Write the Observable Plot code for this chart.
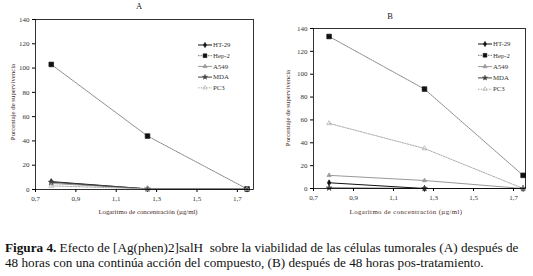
<!DOCTYPE html>
<html><head><meta charset="utf-8">
<script src="https://cdn.jsdelivr.net/npm/d3@7"></script>
<script src="https://cdn.jsdelivr.net/npm/@observablehq/plot@0.6"></script>
<style>
body{margin:0;background:#fff;}
#root{position:relative;width:533px;height:276px;background:#fff;overflow:hidden;font-family:'Liberation Serif','Times New Roman',Tinos,'DejaVu Serif',serif;}
.panel{position:absolute;top:0;}
.ttl{position:absolute;font-size:8.5px;color:#222;transform:translate(-50%,-50%);}
.ylab{position:absolute;font-size:6.8px;color:#4a2a1e;transform:translate(-50%,-50%) rotate(-90deg);white-space:nowrap;}
.xlab{position:absolute;font-size:6.8px;color:#4a2a1e;white-space:nowrap;transform:translate(-50%,-50%);}
.leg{position:absolute;}
#cap{position:absolute;left:5px;top:240px;font-size:13.2px;line-height:15px;color:#111;white-space:nowrap;}
</style></head>
<body><div id="root"></div>
<script>
const FONT = "'Liberation Serif','Times New Roman',Tinos,'DejaVu Serif',serif";
const xValues = [0.778, 1.255, 1.748];
const seriesNames = ["HT-29", "Hep-2", "A549", "MDA", "PC3"];
// Panel A: 48 h continuous action
const A_HT29 = [6.5, 0.5, 0.3];
const A_Hep2 = [103, 44, 0.5];
const A_A549 = [5, 0.5, 0.3];
const A_MDA  = [6, 0.5, 0.3];
const A_PC3  = [3, 0.5, 0.3];
// Panel B: 48 h post-treatment
const B_HT29 = [5, 0, 0];
const B_Hep2 = [133, 87, 11.5];
const B_A549 = [11.5, 7, 0];
const B_MDA  = [0.5, 0, 0];
const B_PC3  = [57, 35, 0];
const xTicks = [0.7, 0.9, 1.1, 1.3, 1.5, 1.7];
const yTicks = [0, 20, 40, 60, 80, 100, 120, 140];
const yLabel = "Porcentaje de supervivencia";
const xLabel = "Logaritmo de concentración (µg/ml)";
const caption = ["<b>Figura 4.</b> Efecto de [Ag(phen)2]salH&nbsp; sobre la viabilidad de las células tumorales (A) después de",
 "48 horas con una continúa acción del compuesto, (B) después de 48 horas pos-tratamiento."];

const styles = {
  "HT-29": {stroke:"#111", dash:null, sym:"diamond", fill:"#111", r:1.8},
  "Hep-2": {stroke:"#777", dash:"1.5,1", sym:"square", fill:"#111", r:2.6},
  "A549":  {stroke:"#999", dash:null, sym:"triangle", fill:"#999", r:1.6},
  "MDA":   {stroke:"#444", dash:null, sym:"star", fill:"#444", r:1.8},
  "PC3":   {stroke:"#aaa", dash:"1.5,1.2", sym:"triangle", fill:"none", r:1.8}
};

function rows(vals){
  const out=[];
  seriesNames.forEach((s,i)=>vals[i].forEach((v,j)=>out.push({s,x:xValues[j],y:v})));
  return out;
}
const fmt = d=>d.toFixed(1).replace(".",",");

function panel(vals, o){
  const data = rows(vals);
  const marks = [];
  for (const s of seriesNames){
    const st = styles[s];
    const d = data.filter(r=>r.s===s);
    marks.push(Plot.line(d,{x:"x",y:"y",stroke:st.stroke,strokeWidth:s==="Hep-2"?0.9:1,strokeDasharray:st.dash}));
  }
  for (const s of seriesNames){
    const st = styles[s];
    const d = data.filter(r=>r.s===s);
    marks.push(Plot.dot(d,{x:"x",y:"y",symbol:()=>st.sym,r:st.r,fill:st.fill,stroke:st.fill==="none"?st.stroke:st.fill,strokeWidth:0.7}));
  }
  return Plot.plot({
    width:o.w, height:o.h,
    marginLeft:o.ml, marginRight:o.mr, marginTop:o.mt, marginBottom:o.mb,
    style:{fontFamily:FONT, fontSize:"7px", color:"#333", background:"transparent"},
    x:{domain:o.xd, label:null},
    y:{domain:[0,140], label:null},
    symbol:{type:"identity"},
    marks:[
      Plot.axisX({ticks:xTicks, tickFormat:fmt, tickSize:3, tickPadding:4, label:null, stroke:"#000", fontFamily:FONT}),
      Plot.axisY({ticks:yTicks, tickSize:3, tickPadding:3, label:null, stroke:"#000", fontFamily:FONT}),
      ...marks,
      Plot.frame({stroke:"#000", strokeWidth:0.8})
    ]
  });
}

function legend(x,y,dy){
  const svg = d3.create("svg").attr("width",60).attr("height",dy*5+4).attr("class","leg")
    .style("left",x+"px").style("top",y+"px");
  seriesNames.forEach((s,i)=>{
    const st=styles[s]; const cy=4+i*dy;
    svg.append("line").attr("x1",2).attr("x2",16).attr("y1",cy).attr("y2",cy)
      .attr("stroke",st.stroke).attr("stroke-width",1).attr("stroke-dasharray",st.dash);
    const sym = {diamond:d3.symbolDiamond,square:d3.symbolSquare,triangle:d3.symbolTriangle,star:d3.symbolStar}[st.sym];
    svg.append("path").attr("d",d3.symbol(sym, st.sym==="square"?14:8)()).attr("transform",`translate(9,${cy})`)
      .attr("fill",st.fill).attr("stroke",st.fill==="none"?st.stroke:st.fill).attr("stroke-width",0.6);
    svg.append("text").attr("x",17).attr("y",cy+2.2).text(s)
      .style("font-family",FONT).attr("font-size",6.8).attr("fill","#333");
  });
  return svg.node();
}

const root = document.getElementById("root");
function add(el, left){ const d=document.createElement("div"); d.className="panel"; d.style.left=left+"px"; d.appendChild(el); root.appendChild(d); }

add(panel([A_HT29,A_Hep2,A_A549,A_MDA,A_PC3],{w:265,h:215,ml:35,mr:12,mt:19,mb:26,xd:[0.7,1.78]}),0);
add(panel([B_HT29,B_Hep2,B_A549,B_MDA,B_PC3],{w:268,h:215,ml:48,mr:8,mt:28,mb:27,xd:[0.7,1.76]}),265);

function html(cls, txt, css){ const d=document.createElement("div"); d.className=cls; d.innerHTML=txt; Object.assign(d.style,css); root.appendChild(d); }
html("ttl","A",{left:"139px",top:"6px"});
html("ttl","B",{left:"390px",top:"16px"});
html("ylab",yLabel,{left:"12px",top:"102px"});
html("ylab",yLabel,{left:"287px",top:"108px"});
html("xlab",xLabel,{left:"148px",top:"211px"});
html("xlab",xLabel,{left:"406px",top:"211px",letterSpacing:"0.4px"});
root.appendChild(legend(196,41,10.7));
root.appendChild(legend(476,40,11.3));
const cap=document.createElement("div"); cap.id="cap"; cap.innerHTML=caption.join("<br>"); root.appendChild(cap);
</script></body></html>
